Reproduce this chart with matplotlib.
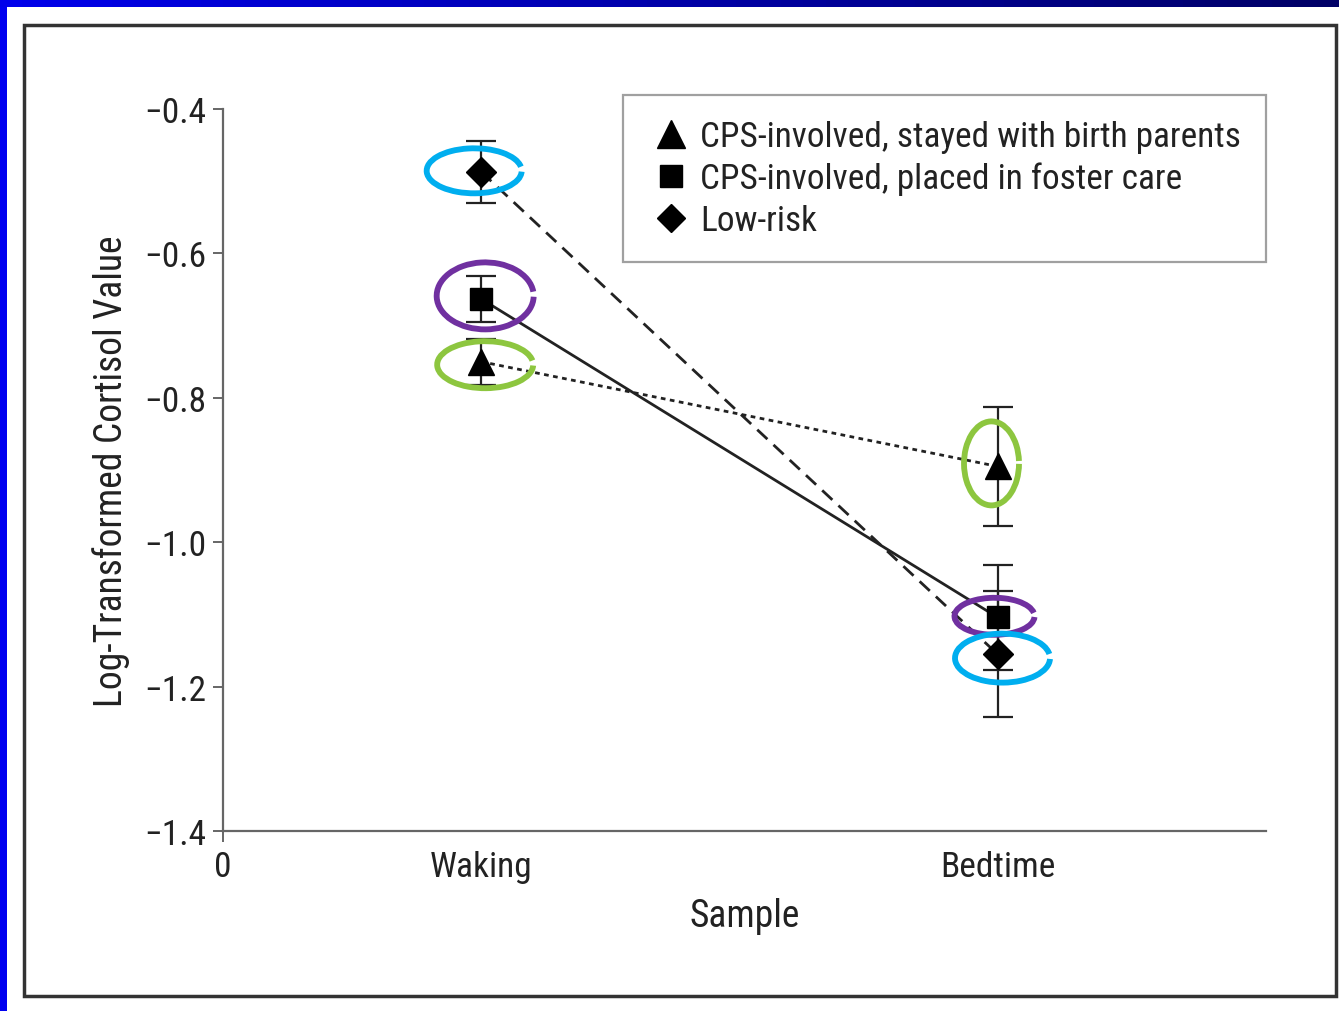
import matplotlib
matplotlib.use("Agg")
import matplotlib.pyplot as plt
import matplotlib.transforms as mtransforms
from matplotlib.patches import Arc, Rectangle
from matplotlib.lines import Line2D
from matplotlib import font_manager

# prefer a narrow sans face when one is installed
_available = {f.name for f in font_manager.fontManager.ttflist}
_family = [f for f in ["Roboto Condensed", "Liberation Sans Narrow", "Liberation Sans"]
           if f in _available] or ["DejaVu Sans"]
plt.rcParams['font.family'] = _family + ["DejaVu Sans"]

# ---- data -------------------------------------------------------------
samples = ["Waking", "Bedtime"]
sample_x = [1, 3]

groups = ["CPS-involved, stayed with birth parents",
          "CPS-involved, placed in foster care",
          "Low-risk"]

birth_parents_mean = [-0.75, -0.895]
birth_parents_err = [0.032, 0.082]

foster_care_mean = [-0.663, -1.104]
foster_care_err = [0.032, 0.073]

low_risk_mean = [-0.487, -1.155]
low_risk_err = [0.043, 0.087]

y_ticks = [-1.4, -1.2, -1.0, -0.8, -0.6, -0.4]
y_tick_labels = ["\u22121.4", "\u22121.2", "\u22121.0", "\u22120.8", "\u22120.6", "\u22120.4"]

# ---- figure -----------------------------------------------------------
W, H, DPI = 1339, 1012, 100
fig = plt.figure(figsize=(W / DPI, H / DPI), dpi=DPI)
fig.patch.set_facecolor("white")

# slide background strips (left and top)
fig.patches.append(Rectangle((0, 0), 7 / W, 1, transform=fig.transFigure,
                             facecolor="#0000f0", edgecolor="none", zorder=0))
n_steps = 60
for i in range(n_steps):
    t = i / (n_steps - 1)
    b = 0.92 * (1 - t) + 0.40 * t
    fig.patches.append(Rectangle((i / n_steps, 1 - 8 / H), 1 / n_steps + 0.002, 8 / H,
                                 transform=fig.transFigure, facecolor=(0, 0, b),
                                 edgecolor="none", zorder=0))

# outer frame around the figure panel
fig.patches.append(Rectangle((24 / W, 1 - 997 / H), (1336 - 24) / W, (997 - 26) / H,
                             transform=fig.transFigure, facecolor="none",
                             edgecolor="#333333", linewidth=2.5, zorder=1))

ax = fig.add_axes([223 / W, 1 - 832 / H, 1043 / W, 722 / H])
ax.set_facecolor("none")

ax.set_xlim(0, 4.04)
ax.set_ylim(-1.4, -0.4)

for s in ["top", "right"]:
    ax.spines[s].set_visible(False)
for s in ["left", "bottom"]:
    ax.spines[s].set_color("#666666")
    ax.spines[s].set_linewidth(1.6)

TXT = "#222222"
ax.set_yticks(y_ticks)
ax.set_yticklabels(y_tick_labels)
ax.tick_params(axis="y", direction="out", length=7, width=1.4, color="#666666",
               labelsize=25.5, pad=5, labelcolor=TXT)

ax.set_xticks([0] + sample_x)
ax.set_xticklabels(["0"] + samples)
ax.tick_params(axis="x", direction="out", length=8, width=1.4, color="#666666",
               labelsize=25.5, pad=6, labelcolor=TXT)
for i, tl in enumerate(ax.xaxis.get_major_ticks()):
    if i > 0:
        tl.tick1line.set_visible(False)

ax.set_xlabel("Sample", fontsize=27, color=TXT, labelpad=10)
ax.set_ylabel("Log-Transformed Cortisol Value", fontsize=27, color=TXT, labelpad=10)

series = [
    (birth_parents_mean, birth_parents_err, "^", (0, (1.7, 1.6)), 19),
    (foster_care_mean, foster_care_err, "s", "-", 16),
    (low_risk_mean, low_risk_err, "D", (0, (5, 3)), 15),
]
for mean, err, marker, ls, ms in series:
    ax.errorbar(sample_x, mean, yerr=err, fmt="none", ecolor="#222222",
                elinewidth=1.6, capsize=11, capthick=1.6, zorder=3)
    ax.plot(sample_x, mean, color="#222222", linestyle=ls, linewidth=2.0, zorder=3)
    ax.plot(sample_x, mean, linestyle="none", marker=marker, markersize=ms,
            color="black", zorder=4)

# highlight rings around selected points (sizes and offsets in pixels)
blue, purple, green = "#00aeef", "#7030a0", "#8dc63f"
rings = [
    (sample_x[0], low_risk_mean[0], -7, 1, 95, 45, blue),
    (sample_x[0], foster_care_mean[0], 4, 3, 97, 67, purple),
    (sample_x[0], birth_parents_mean[0], 4, -3, 96, 47, green),
    (sample_x[1], birth_parents_mean[1], -6, 3, 55, 84, green),
    (sample_x[1], foster_care_mean[1], -3, 1, 80, 37, purple),
    (sample_x[1], low_risk_mean[1], 5, -4, 95, 49, blue),
]
for x, y, dx, dy, w, h, c in rings:
    tr = fig.dpi_scale_trans + mtransforms.ScaledTranslation(x, y, ax.transData)
    arc = Arc((dx / DPI, dy / DPI), w / DPI, h / DPI, theta1=5, theta2=359,
              transform=tr, color=c, linewidth=4.2, zorder=5)
    ax.add_artist(arc)

# legend
handles = [Line2D([], [], linestyle="none", marker=m, markersize=s, color="black")
           for m, s in [("^", 20), ("s", 16), ("D", 14.5)]]
leg = ax.legend(handles, groups, loc="upper right", bbox_to_anchor=(1.0, 1.019),
                fontsize=25.4, frameon=True, fancybox=False, edgecolor="#888888",
                handlelength=1.35, handletextpad=0.15, borderpad=0.7, labelspacing=0.25,
                borderaxespad=0)
leg.get_frame().set_linewidth(1.6)
for t in leg.get_texts():
    t.set_color(TXT)

fig.savefig("out.png", dpi=DPI)
